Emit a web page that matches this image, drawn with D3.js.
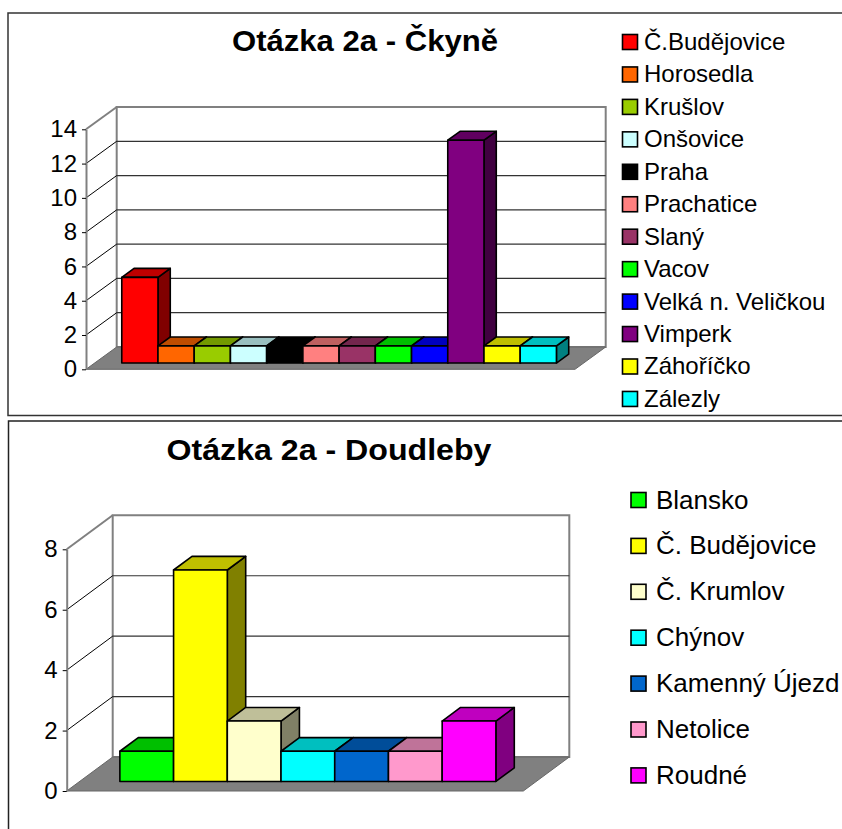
<!DOCTYPE html>
<html>
<head>
<meta charset="utf-8">
<script src="https://cdn.jsdelivr.net/npm/d3@7"></script>
<style>
  body { margin: 0; background: #fff; }
  svg { display: block; font-family: "Liberation Sans", Arial, sans-serif; }
</style>
</head>
<body>
<svg id="svg1" width="842" height="829"></svg>
<script>
// Chart 1 - Čkyně
const topTitle = "Otázka 2a - Čkyně";
const topNames = ["Č.Budějovice", "Horosedla", "Krušlov", "Onšovice", "Praha", "Prachatice",
  "Slaný", "Vacov", "Velká n. Veličkou", "Vimperk", "Záhoříčko", "Zálezly"];
const topValues = [5, 1, 1, 1, 1, 1, 1, 1, 1, 13, 1, 1];
const topColors = ["#FF0000", "#FF6600", "#99CC00", "#CCFFFF", "#000000", "#FF8080",
  "#993366", "#00FF00", "#0000FF", "#800080", "#FFFF00", "#00FFFF"];
const topTicks = [0, 2, 4, 6, 8, 10, 12, 14];

// Chart 2 - Doudleby
const bottomTitle = "Otázka 2a - Doudleby";
const bottomNames = ["Blansko", "Č. Budějovice", "Č. Krumlov", "Chýnov", "Kamenný Újezd",
  "Netolice", "Roudné"];
const bottomValues = [1, 7, 2, 1, 1, 1, 2];
const bottomColors = ["#00FF00", "#FFFF00", "#FFFFCC", "#00FFFF", "#0066CC", "#FF99CC", "#FF00FF"];
const bottomTicks = [0, 2, 4, 6, 8];

const svg = d3.select("svg#svg1");

svg.append("rect")
  .attr("width", 842).attr("height", 829)
  .attr("fill", "#fff");

// chart frames
svg.append("rect")
  .attr("x", 8).attr("y", 13)
  .attr("width", 900).attr("height", 402.5)
  .attr("fill", "none").attr("stroke", "#333").attr("stroke-width", 1.5);

svg.append("rect")
  .attr("x", 8.5).attr("y", 421)
  .attr("width", 900).attr("height", 500)
  .attr("fill", "none").attr("stroke", "#222").attr("stroke-width", 1.5);

var shade = function(c, f) {
  let r = d3.rgb(c);
  return d3.rgb(r.r * f, r.g * f, r.b * f).formatHex();
}

var pts = function(list) {
  return list.map(p => p.join(",")).join(" ");
}

var drawChart = function(g, cfg) {
  let x = d3.scaleBand()
    .domain(cfg.names)
    .range([cfg.x0, cfg.x0 + cfg.width])
    .paddingInner(0)
    .paddingOuter(0.75);

  let y = d3.scaleLinear()
    .domain([0, d3.max(cfg.ticks)])
    .range([cfg.y0, cfg.yTop]);

  let dx = cfg.dx, dy = cfg.dy;
  let yMax = y(d3.max(cfg.ticks));
  let xL = cfg.x0, xR = cfg.x0 + cfg.width;

  // back wall
  g.append("polygon")
    .attr("points", pts([[xL + dx, cfg.y0 + dy], [xL + dx, yMax + dy],
      [xR + dx, yMax + dy], [xR + dx, cfg.y0 + dy]]))
    .attr("fill", "#fff")
    .attr("stroke", "#808080")
    .attr("stroke-width", 2);

  let inner = cfg.ticks.filter(t => t > 0 && t < d3.max(cfg.ticks));

  g.selectAll("line.grid")
    .data(inner)
    .enter()
    .append("line")
    .attr("class", "grid")
    .attr("x1", xL + dx).attr("x2", xR + dx)
    .attr("y1", d => y(d) + dy).attr("y2", d => y(d) + dy)
    .attr("stroke", "#333").attr("stroke-width", 1.2);

  // side wall lines
  g.selectAll("line.side")
    .data(cfg.ticks.filter(t => t > 0))
    .enter()
    .append("line")
    .attr("class", "side")
    .attr("x1", xL).attr("x2", xL + dx)
    .attr("y1", d => y(d)).attr("y2", d => y(d) + dy)
    .attr("stroke", d => d == d3.max(cfg.ticks) ? "#808080" : "#000")
    .attr("stroke-width", d => d == d3.max(cfg.ticks) ? 2 : 1);

  // floor
  g.append("polygon")
    .attr("points", pts([[xL, cfg.y0], [xR, cfg.y0], [xR + dx, cfg.y0 + dy], [xL + dx, cfg.y0 + dy]]))
    .attr("fill", "#808080")
    .attr("stroke", "#666")
    .attr("stroke-width", 1);

  // value axis
  let axis = d3.axisLeft(y)
    .tickValues(cfg.ticks)
    .tickSize(4)
    .tickPadding(5)
    .tickSizeOuter(0);

  let axisGroup = g.append("g")
    .attr("transform", "translate(" + xL + ",0)")
    .call(axis);

  axisGroup.select("path.domain")
    .attr("stroke", "#808080")
    .attr("stroke-width", 2);

  axisGroup.selectAll("line").attr("stroke", "#000");

  axisGroup.selectAll("text")
    .attr("font-family", "'Liberation Sans', Arial, sans-serif")
    .attr("font-size", 24)
    .attr("fill", "#000");

  // bars
  let f1 = 0.28, f2 = 0.68;
  let bw = x.bandwidth();

  let bars = g.selectAll("g.bar")
    .data(cfg.names.map((n, i) => ({ name: n, value: cfg.values[i], color: cfg.colors[i] })))
    .enter()
    .append("g")
    .attr("class", "bar");

  bars.each(function(d) {
    let b = d3.select(this);
    let fx = x(d.name) + f1 * dx;
    let fyTop = y(d.value) + f1 * dy;
    let fyBot = cfg.y0 + f1 * dy;
    let bdx = (f2 - f1) * dx, bdy = (f2 - f1) * dy;

    b.append("polygon")
      .attr("points", pts([[fx + bw, fyTop], [fx + bw, fyBot], [fx + bw + bdx, fyBot + bdy], [fx + bw + bdx, fyTop + bdy]]))
      .attr("fill", shade(d.color, 0.5));

    b.append("polygon")
      .attr("points", pts([[fx, fyTop], [fx + bw, fyTop], [fx + bw + bdx, fyTop + bdy], [fx + bdx, fyTop + bdy]]))
      .attr("fill", shade(d.color, 0.75));

    b.append("rect")
      .attr("x", fx).attr("y", fyTop)
      .attr("width", bw).attr("height", fyBot - fyTop)
      .attr("fill", d.color);

    b.selectAll("polygon, rect")
      .attr("stroke", "#000")
      .attr("stroke-width", 1.6)
      .attr("stroke-linejoin", "round");
  });

  // title
  g.append("text")
    .attr("x", cfg.titleX)
    .attr("y", cfg.titleY)
    .attr("text-anchor", "middle")
    .attr("font-size", 30)
    .attr("font-weight", "bold")
    .attr("textLength", cfg.titleLen)
    .attr("lengthAdjust", "spacingAndGlyphs")
    .text(cfg.title);

  // legend
  let legend = g.append("g");
  let items = legend.selectAll("g.item")
    .data(cfg.names)
    .enter()
    .append("g")
    .attr("class", "item")
    .attr("transform", (d, i) => "translate(" + cfg.legX + "," + (cfg.legY + i * cfg.legStep) + ")");

  items.append("rect")
    .attr("x", 0).attr("y", -7.5)
    .attr("width", 15).attr("height", 15)
    .attr("fill", (d, i) => cfg.colors[i])
    .attr("stroke", "#000")
    .attr("stroke-width", 1.6);

  items.append("text")
    .attr("x", cfg.legTextDx)
    .attr("y", cfg.legFont * 0.33)
    .attr("font-size", cfg.legFont)
    .text(d => d);
}

drawChart(svg.append("g"), {
  names: topNames, values: topValues, colors: topColors, ticks: topTicks,
  x0: 86, y0: 369.3, yTop: 129.3, width: 489, dx: 30.7, dy: -22.3,
  title: topTitle, titleX: 365, titleY: 51, titleLen: 266,
  legX: 622.5, legY: 42, legStep: 32.45, legTextDx: 21.5, legFont: 24
});

drawChart(svg.append("g"), {
  names: bottomNames, values: bottomValues, colors: bottomColors, ticks: bottomTicks,
  x0: 66.7, y0: 791, yTop: 549.3, width: 456.6, dx: 46, dy: -34,
  title: bottomTitle, titleX: 329, titleY: 460, titleLen: 325,
  legX: 631, legY: 500, legStep: 45.9, legTextDx: 25, legFont: 26
});
</script>
</body>
</html>
